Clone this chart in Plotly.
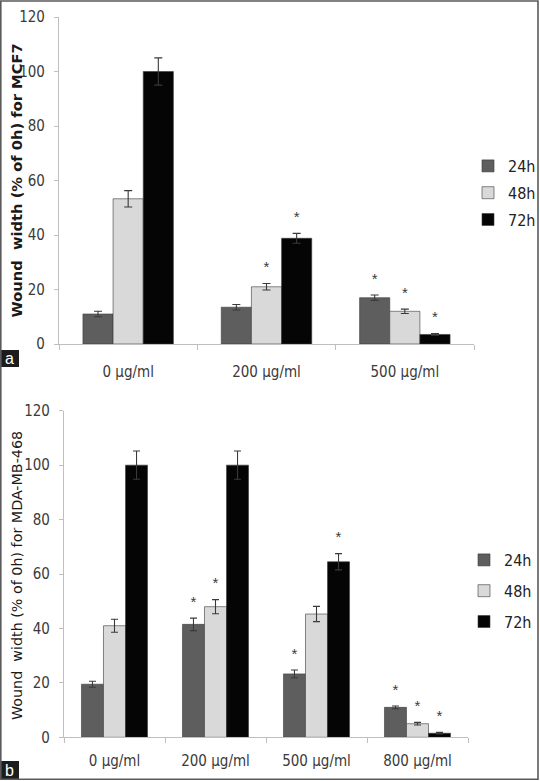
import plotly.graph_objects as go

# ---------------- data ----------------
series = ["24h", "48h", "72h"]

cats_a = ["0 µg/ml", "200 µg/ml", "500 µg/ml"]
vals_a_24 = [11, 13.5, 17]
vals_a_48 = [53.3, 21, 12]
vals_a_72 = [100, 38.8, 3.5]
err_a_24 = [1, 1, 1]
err_a_48 = [3, 1.2, 0.8]
err_a_72 = [5, 1.8, 0.3]
sig_a_24 = [0, 0, 1]
sig_a_48 = [0, 1, 1]
sig_a_72 = [0, 1, 1]

cats_b = ["0 µg/ml", "200 µg/ml", "500 µg/ml", "800 µg/ml"]
vals_b_24 = [19.5, 41.5, 23.3, 11]
vals_b_48 = [41, 48, 45.3, 5]
vals_b_72 = [100, 100, 64.5, 1.5]
err_b_24 = [1.1, 2.3, 1.4, 0.5]
err_b_48 = [2.4, 2.6, 2.8, 0.5]
err_b_72 = [5.2, 5.2, 3, 0.3]
sig_b_24 = [0, 1, 1, 1]
sig_b_48 = [0, 1, 0, 1]
sig_b_72 = [0, 0, 1, 1]

ytick_vals = [0, 20, 40, 60, 80, 100, 120]

# ---------------- style ----------------
colors = ["#5e5e5e", "#d9d9d9", "#050505"]
W, H = 540, 781
BAR_W = 0.218
STAR_OFF = 5.5
TICKFONT = dict(family="Liberation Sans Narrow, DejaVu Sans Condensed, Arial", size=15, color="#3a3a3a")
AXCOL = "#bfbfbf"

fig = go.Figure()


def add_panel(cats, vals, errs, sigs, xa, ya, legend, capw):
    n = len(cats)
    for j, (name, v, e, s) in enumerate(zip(series, vals, errs, sigs)):
        xs = [i + (j - 1) * BAR_W for i in range(n)]
        fig.add_trace(go.Bar(
            x=xs, y=v, width=BAR_W, name=name, xaxis=xa, yaxis=ya,
            marker=dict(color=colors[j], line=dict(color="#3a3a3a", width=0.6)),
            error_y=dict(type="data", array=e, visible=True, color="#3a3a3a",
                         thickness=1.1, width=capw),
            legend=legend, legendgroup=legend + name, showlegend=True,
        ))
        sx = [x for x, f in zip(xs, s) if f]
        sy = [vv + ee + STAR_OFF for vv, ee, f in zip(v, e, s) if f]
        fig.add_trace(go.Scatter(
            x=sx, y=sy, mode="text", text=["*"] * len(sx), xaxis=xa, yaxis=ya,
            textfont=dict(family="Liberation Sans, Arial", size=15, color="#3a3a3a"),
            showlegend=False, hoverinfo="skip",
        ))


add_panel(cats_a, [vals_a_24, vals_a_48, vals_a_72], [err_a_24, err_a_48, err_a_72],
          [sig_a_24, sig_a_48, sig_a_72], "x", "y", "legend", 4)
add_panel(cats_b, [vals_b_24, vals_b_48, vals_b_72], [err_b_24, err_b_48, err_b_72],
          [sig_b_24, sig_b_48, sig_b_72], "x2", "y2", "legend2", 3.5)


def px_x(p):
    return p / W


def px_y(p):
    return 1 - p / H


def xaxis(cats, d0, d1, anchor, standoff):
    n = len(cats)
    return dict(
        domain=[px_x(d0), px_x(d1)], anchor=anchor, range=[-0.5, n - 0.5],
        tickvals=list(range(n)), ticktext=cats, ticks="", showgrid=False, zeroline=False,
        showline=True, linecolor=AXCOL, linewidth=1.2, tickfont=TICKFONT,
        ticklabelstandoff=standoff, automargin=False,
        minor=dict(ticks="outside", tick0=-0.5, dtick=1, ticklen=5, tickcolor=AXCOL,
                   tickwidth=1.2, showgrid=False),
        fixedrange=True,
    )


def yaxis(t0, t1, anchor):
    return dict(
        domain=[px_y(t1), px_y(t0)], anchor=anchor, range=[0, 120],
        tickvals=ytick_vals, ticks="outside", ticklen=4, tickcolor=AXCOL, tickwidth=1.2,
        showline=True, linecolor=AXCOL, linewidth=1.2, showgrid=False, zeroline=False,
        tickfont=TICKFONT, ticklabelstandoff=6, fixedrange=True, automargin=False,
    )


LEGFONT = dict(family="Liberation Sans Narrow, DejaVu Sans Condensed, Arial", size=16, color="#222")

fig.update_layout(
    width=W, height=H, margin=dict(l=0, r=0, t=0, b=0, autoexpand=False),
    paper_bgcolor="white", plot_bgcolor="white",
    barmode="overlay",
    xaxis=xaxis(cats_a, 59, 474, "y", 14),
    yaxis=yaxis(17, 344, "x"),
    xaxis2=xaxis(cats_b, 64, 468, "y2", 10),
    yaxis2=yaxis(410.7, 737.3, "x2"),
    legend=dict(x=px_x(468), y=px_y(149), xanchor="left", yanchor="top", font=LEGFONT,
                tracegroupgap=3, bgcolor="rgba(0,0,0,0)"),
    legend2=dict(x=px_x(464), y=px_y(543), xanchor="left", yanchor="top", font=LEGFONT,
                 tracegroupgap=7, bgcolor="rgba(0,0,0,0)"),
    showlegend=True,
)

# axis titles
fig.add_annotation(text="Wound  width (% of 0h) for MCF7", xref="paper", yref="paper",
                   x=px_x(16), y=px_y(180.5), xanchor="center", yanchor="middle",
                   textangle=-90, showarrow=False,
                   font=dict(family="DejaVu Sans", size=14.7, color="#1a1a1a", weight="bold"))
fig.add_annotation(text="Wound  width (% of 0h) for MDA-MB-468", xref="paper", yref="paper",
                   x=px_x(17), y=px_y(576), xanchor="center", yanchor="middle",
                   textangle=-90, showarrow=False,
                   font=dict(family="DejaVu Sans", size=14.3, color="#1a1a1a"))

# panel labels
for lab, top, bot in [("a", 350, 367), ("b", 761, 779)]:
    fig.add_shape(type="rect", xref="paper", yref="paper", x0=0, x1=px_x(19),
                  y0=px_y(bot), y1=px_y(top), fillcolor="#1c1c1c", line=dict(width=0), layer="above")
    fig.add_annotation(text=lab, xref="paper", yref="paper", x=px_x(9.5), y=px_y((top + bot) / 2),
                       xanchor="center", yanchor="middle",
                       showarrow=False, font=dict(family="Liberation Sans, Arial", size=16, color="white"))

# outer border
fig.add_shape(type="rect", xref="paper", yref="paper", x0=px_x(0.8), x1=px_x(538),
              y0=px_y(779.3), y1=px_y(1), line=dict(color="#5a5a5a", width=1.6), layer="above")

fig.write_html("out.html", config={"displayModeBar": False},
               post_script="document.body.style.margin='0';document.body.style.padding='0';")
